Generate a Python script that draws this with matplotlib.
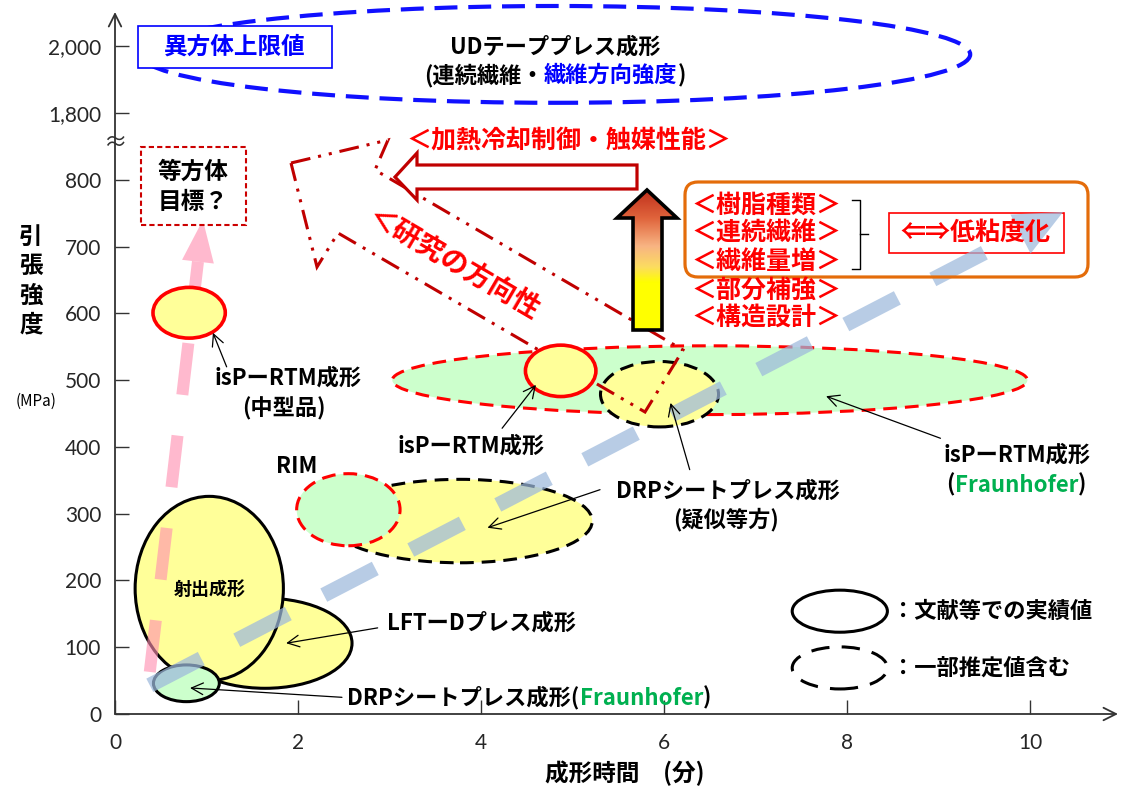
import numpy as np
import matplotlib
matplotlib.use('Agg')
import matplotlib.pyplot as plt
from matplotlib.patches import Ellipse, Polygon, Rectangle, FancyBboxPatch
from matplotlib.colors import LinearSegmentedColormap

plt.rcParams['font.family'] = ['Noto Sans CJK JP', 'DejaVu Sans']

# ---------------- data ----------------
xticks = [0, 2, 4, 6, 8, 10]
yticks = [0, 100, 200, 300, 400, 500, 600, 700, 800, 1800, 2000]

# process regions: centre time (min), time span, centre strength (MPa), strength span
reg_name = ['isP-RTM (Fraunhofer)', 'DRP 疑似等方', 'isP-RTM', 'DRPシートプレス', 'RIM',
            'LFT-D', '射出成形', 'DRP (Fraunhofer)', 'isP-RTM 中型品']
reg_time = [6.50, 5.95, 4.87, 3.77, 2.55, 1.64, 1.03, 0.78, 0.81]
reg_time_span = [6.94, 1.29, 0.77, 2.89, 1.13, 1.90, 1.62, 0.72, 0.79]
reg_strength = [500, 479, 514, 289, 306, 106, 188, 46, 601]
reg_strength_span = [103, 98, 77, 125, 108, 135, 276, 55, 76]
reg_fill = ['#CCFFCC', '#FFFF99', '#FFFF99', '#FFFF99', '#CCFFCC',
            '#FFFF99', '#FFFF99', '#CCFFCC', '#FFFF99']
reg_edge = ['#FF0000', 'black', '#FF0000', 'black', '#FF0000',
            'black', 'black', 'black', '#FF0000']
reg_dashed = [True, True, False, True, True, False, False, False, False]
reg_z = [2, 3, 5, 2, 3, 2, 3, 4, 5]

ud_time, ud_time_span = 4.81, 9.07
ud_strength, ud_strength_span = 1976, 290

trend_time = [0.38, 10.36]
trend_strength = [43, 752]
target_time = [0.38, 0.96]
target_strength = [63, 740]

RED = '#FF0000'
DRED = '#C00000'
GREEN = '#00B050'

# ---------------- figure ----------------
fig = plt.figure(figsize=(11.21, 7.92), dpi=100, facecolor='white')
ax = fig.add_axes([115 / 1121, 78 / 792, 1003 / 1121, 702 / 792])


def fwd(y):
    y = np.asarray(y, float)
    return np.where(y <= 800, y, np.where(y <= 1800, 800 + (y - 800) * 0.1, 900 + (y - 1800) * 0.5))


def inv(t):
    t = np.asarray(t, float)
    return np.where(t <= 800, t, np.where(t <= 900, 800 + (t - 800) * 10, 1800 + (t - 900) * 2))


ax.set_yscale('function', functions=(fwd, inv))
XLIM = (0, 10.96)
YLIM = (0, 2103)
ax.set_xlim(*XLIM)
ax.set_ylim(*YLIM)
for s in ax.spines.values():
    s.set_visible(False)
ax.set_xticks(xticks)
ax.set_xticklabels([str(v) for v in xticks])
ax.set_yticks(yticks)
ax.set_yticklabels([f'{v:,}' for v in yticks])
ax.tick_params(direction='in', length=10, width=1.0, color='#333333', labelcolor='#262626',
               labelsize=15)
ax.tick_params(axis='y', pad=10)
ax.tick_params(axis='x', pad=14)
for lab in ax.get_xticklabels() + ax.get_yticklabels():
    lab.set_fontfamily(['Lato', 'DejaVu Sans'])

# axis arrows
for end in [(0, 1), (1, 0)]:
    ax.annotate('', xy=end, xytext=(0, 0), xycoords='axes fraction',
                arrowprops=dict(arrowstyle='->,head_length=0.9,head_width=0.45', lw=1.3,
                                color='#333333', shrinkA=0, shrinkB=0, mutation_scale=10))


def af(px, py):
    """reference-pixel position -> axes fraction"""
    return ((px - 115) / 1003, (714 - py) / 702)


def ctext(x, y, parts, size, coords='data', ha='center', z=10):
    arts = []
    for i, (s, c) in enumerate(parts):
        if i == 0:
            t = ax.annotate(s, xy=(x, y), xycoords=coords, xytext=(0, 0), textcoords='offset pixels',
                            ha='left', va='center', color=c, fontsize=size, fontweight='bold',
                            annotation_clip=False, zorder=z)
        else:
            t = ax.annotate(s, xy=(1, 0), xycoords=arts[-1], xytext=(0, 0), textcoords='offset pixels',
                            ha='left', va='bottom', color=c, fontsize=size, fontweight='bold',
                            annotation_clip=False, zorder=z)
        arts.append(t)
    if ha == 'center':
        r = fig.canvas.get_renderer()
        w = sum(a.get_window_extent(r).width for a in arts)
        arts[0].xyann = (-w / 2, 0)
    return arts


def pointer(tail, tip):
    ax.annotate('', xy=tip, xytext=tail, xycoords='data',
                arrowprops=dict(arrowstyle='->,head_length=0.7,head_width=0.35', lw=0.9, color='black',
                                shrinkA=0, shrinkB=0, mutation_scale=12), zorder=9)


def dashed_arrow(xs, ys, color, alpha, lw_px, dash_px, gap_px, head_len_px, head_hw_px, z):
    p0 = ax.transData.transform((xs[0], ys[0]))
    p1 = ax.transData.transform((xs[1], ys[1]))
    d = p1 - p0
    L = np.hypot(*d)
    u = d / L
    n = np.array([-u[1], u[0]])
    base = p1 - u * head_len_px
    inv_t = ax.transData.inverted()
    bd = inv_t.transform(base)
    lw = lw_px * 0.72
    ax.plot([xs[0], bd[0]], [ys[0], bd[1]], color=color, alpha=alpha, lw=lw,
            linestyle=(0, (dash_px / lw_px, gap_px / lw_px)), dash_capstyle='butt',
            solid_capstyle='butt', zorder=z)
    head = inv_t.transform(np.array([p1, base + n * head_hw_px, base - n * head_hw_px]))
    ax.add_patch(Polygon(head, closed=True, facecolor=color, edgecolor='none', alpha=alpha, zorder=z))


# ---------------- regions ----------------
for i in range(len(reg_name)):
    solid = not reg_dashed[i]
    lw = 2.6 if (solid and reg_edge[i] == RED) else 2.2
    ls = '-' if solid else (0, (4.5, 2.6))
    ax.add_patch(Ellipse((reg_time[i], reg_strength[i]), reg_time_span[i], reg_strength_span[i],
                         facecolor=reg_fill[i], edgecolor=reg_edge[i], lw=lw, linestyle=ls,
                         zorder=reg_z[i]))

ax.add_patch(Ellipse((ud_time, ud_strength), ud_time_span, ud_strength_span, facecolor='none',
                     edgecolor='#1010FF', lw=3.0, linestyle=(0, (5.5, 2.6)), zorder=2, clip_on=False))

# isotropic target (pink) and trend (blue)
dashed_arrow(target_time, target_strength, '#FF8FB0', 0.62, 12, 52, 41, 42, 16, 4.5)
dashed_arrow(trend_time, trend_strength, '#9DB9DC', 0.72, 15, 58, 40, 48, 22, 4.8)

# research direction (dash-dot outline arrow)
research = [(291, 163), (388, 140), (375, 170), (683, 350), (645, 412), (338, 233), (317, 267)]
ax.add_patch(Polygon([af(*p) for p in research], closed=True, fill=False, edgecolor=DRED, lw=2.2,
                     linestyle=(0, (6.5, 2.6, 1.0, 2.6, 1.0, 2.6)), transform=ax.transAxes, zorder=4.7))
ax.text(*af(453, 264), '＜研究の方向性', transform=ax.transAxes, rotation=-30.3, rotation_mode='anchor',
        ha='center', va='center', color=RED, fontsize=20, fontweight='bold', zorder=10)

# hollow left arrow
hollow = [(395, 177), (417, 153), (417, 165), (637, 165), (637, 189), (417, 189), (417, 200)]
ax.add_patch(Polygon([af(*p) for p in hollow], closed=True, facecolor='white', edgecolor=DRED,
                     lw=2.3, transform=ax.transAxes, zorder=6))
ax.text(*af(569, 141), '＜加熱冷却制御・触媒性能＞', transform=ax.transAxes, ha='center', va='center',
        color=RED, fontsize=18, fontweight='bold', zorder=10)

# gradient up arrow
up = [(647, 190), (677, 218), (662, 218), (662, 330), (633, 330), (633, 218), (617, 218)]
up_poly = Polygon([af(*p) for p in up], closed=True, facecolor='none', edgecolor='black', lw=2.6,
                  transform=ax.transAxes, zorder=7)
ax.add_patch(up_poly)
cmap = LinearSegmentedColormap.from_list('g', [(0, '#C0301C'), (0.2, '#E0643C'), (0.4, '#F8B483'),
                                               (0.55, '#FCDC60'), (0.66, '#FFFF00'), (1, '#FFFF00')])
gx0, gy0 = af(617, 330)
gx1, gy1 = af(677, 190)
im = ax.imshow(np.linspace(0, 1, 256).reshape(-1, 1), cmap=cmap, extent=(gx0, gx1, gy0, gy1),
               transform=ax.transAxes, aspect='auto', origin='upper', interpolation='bilinear', zorder=6.5)
im.set_clip_path(up_poly)

# orange box and factor list
bx0, by0 = af(685, 277)
bx1, by1 = af(1088, 182)
ax.add_patch(FancyBboxPatch((bx0, by0), bx1 - bx0, by1 - by0,
                            boxstyle='round,pad=0,rounding_size=0.013', mutation_aspect=1003 / 702,
                            transform=ax.transAxes, facecolor='none', edgecolor='#E46C0A', lw=2.3,
                            zorder=6))
factors = ['＜樹脂種類＞', '＜連続繊維＞', '＜繊維量増＞', '＜部分補強＞', '＜構造設計＞']
factor_py = [206, 234, 262, 291, 318]
for s, py in zip(factors, factor_py):
    ax.text(*af(766, py), s, transform=ax.transAxes, ha='center', va='center', color=RED,
            fontsize=18, fontweight='bold', zorder=10)
brace = [(852, 200), (860, 200), (860, 269), (852, 269)]
ax.plot([af(*p)[0] for p in brace], [af(*p)[1] for p in brace], color='black', lw=1.0,
        transform=ax.transAxes, zorder=10)
ax.plot([af(860, 234)[0], af(868, 234)[0]], [af(860, 234)[1], af(868, 234)[1]], color='black',
        lw=1.0, transform=ax.transAxes, zorder=10)
rx0, ry0 = af(889, 253)
rx1, ry1 = af(1064, 213)
ax.add_patch(Rectangle((rx0, ry0), rx1 - rx0, ry1 - ry0, facecolor='white', edgecolor=RED, lw=1.2,
                       transform=ax.transAxes, zorder=4.6))
ax.text(*af(975, 233), '⇐⇒低粘度化', transform=ax.transAxes, ha='center', va='center', color=RED,
        fontsize=18, fontweight='bold', zorder=10)

# isotropic target box
tx0, ty0 = af(141, 225)
tx1, ty1 = af(246, 147)
ax.add_patch(Rectangle((tx0, ty0), tx1 - tx0, ty1 - ty0, facecolor='white', edgecolor='#CC0000',
                       lw=1.5, linestyle=(0, (2.5, 1.5)), transform=ax.transAxes, zorder=6))
ax.text(*af(193, 172), '等方体', transform=ax.transAxes, ha='center', va='center', fontsize=17,
        fontweight='bold', zorder=10)
ax.text(*af(193, 202), '目標？', transform=ax.transAxes, ha='center', va='center', fontsize=17,
        fontweight='bold', zorder=10)

# anisotropic upper limit
ux0, uy0 = af(138, 68)
ux1, uy1 = af(332, 26)
ax.add_patch(Rectangle((ux0, uy0), ux1 - ux0, uy1 - uy0, facecolor='white', edgecolor='#0000FF', lw=1.2,
                       transform=ax.transAxes, zorder=6, clip_on=False))
ax.text(*af(235, 47), '異方体上限値', transform=ax.transAxes, ha='center', va='center', color='#0000FF',
        fontsize=17, fontweight='bold', zorder=10)
ctext(ud_time, 1998, [('UDテーププレス成形', 'black')], 16)
ctext(ud_time, 1914, [('(連続繊維・', 'black'), ('繊維方向強度', '#0000FF'), (')', 'black')], 16)

# axis break mark
ax.text(*af(115, 143), '≈', transform=ax.transAxes, ha='center', va='center', fontsize=17,
        color='#333333', zorder=10)

# ---------------- labels ----------------
LS = 16
ctext(1.89, 503, [('isPーRTM成形', 'black')], LS)
ctext(1.84, 458, [('(中型品)', 'black')], LS)
pointer((1.22, 520), (1.07, 571))

ctext(3.89, 401, [('isPーRTM成形', 'black')], LS)
pointer((4.23, 428), (4.60, 493))

ctext(6.70, 334, [('DRPシートプレス成形', 'black')], LS)
ctext(6.68, 291, [('(疑似等方)', 'black')], LS)
pointer((5.30, 336), (4.07, 279))
pointer((6.28, 366), (6.07, 466))

ctext(9.86, 388, [('isPーRTM成形', 'black')], LS)
ctext(9.85, 343, [('(', 'black'), ('Fraunhofer', GREEN), (')', 'black')], LS)
pointer((9.02, 413), (7.77, 476))

ctext(1.99, 370, [('RIM', 'black')], LS)
ctext(1.03, 187, [('射出成形', 'black')], 13)

ctext(4.00, 136, [('LFTーDプレス成形', 'black')], LS)
pointer((2.87, 129), (1.87, 106))

ctext(2.54, 24, [('DRPシートプレス成形(', 'black'), ('Fraunhofer', GREEN), (')', 'black')], LS, ha='left')
pointer((2.48, 25), (0.82, 39))

# legend
ax.add_patch(Ellipse((7.92, 154), 1.04, 63, facecolor='none', edgecolor='black', lw=2.2, zorder=5))
ax.add_patch(Ellipse((7.92, 69), 1.04, 63, facecolor='none', edgecolor='black', lw=2.2,
                     linestyle=(0, (6, 4)), zorder=5))
ctext(8.49, 154, [('：文献等での実績値', 'black')], LS, ha='left')
ctext(8.49, 69, [('：一部推定値含む', 'black')], LS, ha='left')

# axis titles
ax.text(*af(625, 773), '成形時間　(分)', transform=ax.transAxes, ha='center', va='center', fontsize=17,
        fontweight='bold')
ax.text(*af(31, 281), '引\n張\n強\n度', transform=ax.transAxes, ha='center', va='center', fontsize=17,
        fontweight='bold', linespacing=1.27)
ax.text(*af(36, 401), '(MPa)', transform=ax.transAxes, ha='center', va='center', fontsize=11)

ax.set_xlim(*XLIM)
ax.set_ylim(*YLIM)
fig.savefig('out.png', dpi=100, facecolor='white')
